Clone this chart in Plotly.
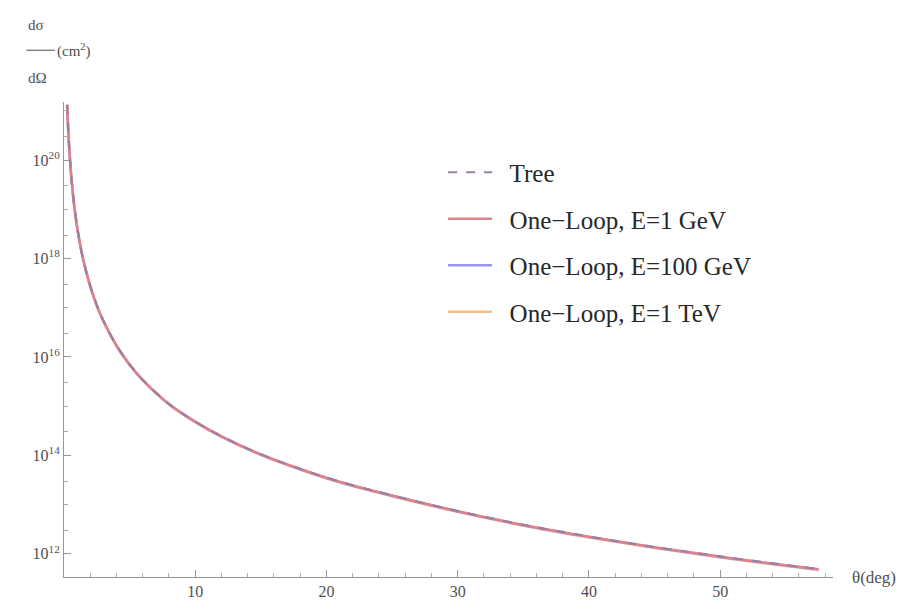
import plotly.graph_objects as go

# Scattering angle in degrees
theta = [0.24, 0.3, 0.4, 0.5, 0.6, 0.8, 1.0, 1.25, 1.5, 2.0, 2.5, 3.0, 4.0, 5.0,
         6.0, 8.0, 10.0, 12.0, 15.0, 18.0, 21.0, 25.0, 30.0, 35.0, 40.0, 45.0,
         50.0, 55.0, 57.5]

# Differential cross section dσ/dΩ in cm^2
tree = [1.34e21, 5.47e20, 1.73e20, 7.10e19, 3.42e19, 1.08e19, 4.44e18, 1.82e18,
        8.75e17, 2.77e17, 1.13e17, 5.47e16, 1.73e16, 7.10e15, 3.45e15, 1.12e15,
        4.90e14, 2.47e14, 1.06e14, 5.37e13, 2.95e13, 1.55e13, 7.45e12, 3.92e12,
        2.26e12, 1.38e12, 8.90e11, 5.95e11, 4.95e11]
loop_1gev = [1.33e21, 5.43e20, 1.72e20, 7.04e19, 3.39e19, 1.07e19, 4.40e18, 1.80e18,
             8.67e17, 2.74e17, 1.12e17, 5.41e16, 1.71e16, 7.02e15, 3.41e15, 1.11e15,
             4.85e14, 2.44e14, 1.05e14, 5.30e13, 2.91e13, 1.53e13, 7.36e12, 3.87e12,
             2.23e12, 1.36e12, 8.78e11, 5.87e11, 4.88e11]
loop_100gev = [1.32e21, 5.39e20, 1.70e20, 6.99e19, 3.36e19, 1.06e19, 4.36e18, 1.79e18,
               8.59e17, 2.72e17, 1.11e17, 5.36e16, 1.69e16, 6.95e15, 3.37e15, 1.095e15,
               4.79e14, 2.41e14, 1.035e14, 5.24e13, 2.88e13, 1.51e13, 7.26e12, 3.82e12,
               2.20e12, 1.34e12, 8.64e11, 5.78e11, 4.80e11]
loop_1tev = [1.31e21, 5.34e20, 1.69e20, 6.92e19, 3.33e19, 1.05e19, 4.31e18, 1.77e18,
             8.50e17, 2.69e17, 1.10e17, 5.30e16, 1.67e16, 6.87e15, 3.33e15, 1.08e15,
             4.72e14, 2.37e14, 1.02e14, 5.16e13, 2.83e13, 1.48e13, 7.12e12, 3.74e12,
             2.15e12, 1.31e12, 8.44e11, 5.64e11, 4.68e11]

series_names = ["\u2002Tree", "\u2002One\u2212Loop, E=1 GeV",
                "\u2002One\u2212Loop, E=100 GeV", "\u2002One\u2212Loop, E=1 TeV"]

x_tick_vals = [10, 20, 30, 40, 50]
y_tick_vals = [1e12, 1e14, 1e16, 1e18, 1e20]
y_tick_text = ["10<sup>12</sup>", "10<sup>14</sup>", "10<sup>16</sup>",
               "10<sup>18</sup>", "10<sup>20</sup>"]
y_minor_vals = [1e13, 1e15, 1e17, 1e19, 1e21,
                3e12, 3e13, 3e14, 3e15, 3e16, 3e17, 3e18, 3e19, 3e20]

SERIF = "Liberation Serif"
TEXT = "rgb(80,80,80)"

fig = go.Figure()

# One-loop curves drawn first, tree-level dashed curve on top
fig.add_trace(go.Scatter(x=theta, y=loop_1tev, name=series_names[3], mode="lines",
                         legendgroup="d", legendrank=4,
                         line=dict(color="rgb(246,192,140)", width=2.5, shape="spline")))
fig.add_trace(go.Scatter(x=theta, y=loop_100gev, name=series_names[2], mode="lines",
                         legendgroup="c", legendrank=3,
                         line=dict(color="rgb(150,150,240)", width=2.5, shape="spline")))
fig.add_trace(go.Scatter(x=theta, y=loop_1gev, name=series_names[1], mode="lines",
                         legendgroup="b", legendrank=2,
                         line=dict(color="rgb(228,128,138)", width=2.5, shape="spline")))
fig.add_trace(go.Scatter(x=theta, y=tree, name=series_names[0], mode="lines",
                         legendgroup="a", legendrank=1,
                         line=dict(color="rgb(150,130,160)", width=2, dash="dash",
                                   shape="spline")))

fig.update_layout(
    width=907, height=611,
    margin=dict(l=64, r=74, t=102, b=34),
    paper_bgcolor="white", plot_bgcolor="white",
    font=dict(family=SERIF, size=16, color=TEXT),
    showlegend=True,
    legend=dict(x=0.493, y=0.9, xanchor="left", yanchor="top",
                bgcolor="rgba(0,0,0,0)", itemwidth=44,
                font=dict(family=SERIF, size=25, color="rgb(40,40,40)"),
                tracegroupgap=11, traceorder="grouped"),
    xaxis=dict(range=[0, 58.6], showgrid=False, zeroline=False,
               showline=True, linecolor="rgb(150,150,150)", linewidth=1,
               tickmode="array", tickvals=x_tick_vals, ticks="inside", ticklen=7,
               tickcolor="rgb(150,150,150)",
               tickfont=dict(family=SERIF, size=16, color=TEXT),
               minor=dict(dtick=2, tick0=0, ticks="inside", ticklen=4,
                          tickcolor="rgb(170,170,170)", showgrid=False)),
    yaxis=dict(type="log", range=[11.53, 21.18], showgrid=False, zeroline=False,
               showline=True, linecolor="rgb(150,150,150)", linewidth=1,
               tickmode="array", tickvals=y_tick_vals, ticktext=y_tick_text,
               ticks="inside", ticklen=7, tickcolor="rgb(150,150,150)",
               tickfont=dict(family=SERIF, size=16, color=TEXT),
               minor=dict(tickmode="array", tickvals=y_minor_vals, ticks="inside",
                          ticklen=4, tickcolor="rgb(170,170,170)", showgrid=False)),
)

# Axis labels in the style of a fraction at the top-left and the angle at the right end
fig.add_annotation(xref="paper", yref="paper", x=-0.049, y=1.162, text="dσ",
                   showarrow=False, xanchor="left", yanchor="middle",
                   font=dict(family=SERIF, size=15, color=TEXT))
fig.add_shape(type="line", xref="paper", yref="paper", x0=-0.049, x1=-0.012,
              y0=1.109, y1=1.109, line=dict(color=TEXT, width=1))
fig.add_annotation(xref="paper", yref="paper", x=-0.012, y=1.109, text="(cm<sup>2</sup>)",
                   showarrow=False, xanchor="left", yanchor="middle",
                   font=dict(family=SERIF, size=15, color=TEXT))
fig.add_annotation(xref="paper", yref="paper", x=-0.049, y=1.05, text="dΩ",
                   showarrow=False, xanchor="left", yanchor="middle",
                   font=dict(family=SERIF, size=15, color=TEXT))
fig.add_annotation(xref="paper", yref="paper", x=1.022, y=0.0, text="θ(deg)",
                   showarrow=False, xanchor="left", yanchor="middle",
                   font=dict(family=SERIF, size=17, color=TEXT))

fig.write_html("out.html")
